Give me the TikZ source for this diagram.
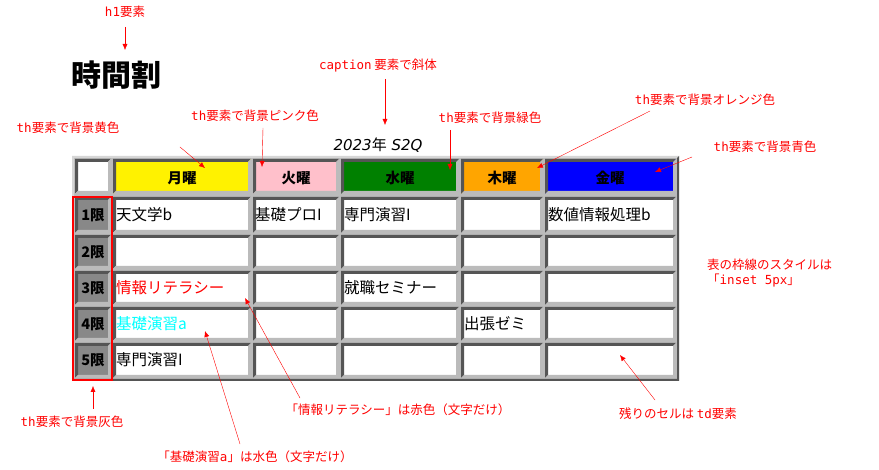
\documentclass[tikz,border=0pt]{standalone}
\usepackage{fontspec}
\setmainfont{Noto Sans CJK JP}
\newfontfamily\cjk{Noto Sans CJK JP}
\newfontfamily\mono{DejaVu Sans Mono}
\newfontfamily\lsans{DejaVu Sans}
\definecolor{dk}{HTML}{555555}
\definecolor{lt}{HTML}{BBBBBB}
\definecolor{thgray}{HTML}{888888}
\definecolor{orng}{HTML}{FFA500}
\definecolor{pnk}{HTML}{FFC0CB}
\definecolor{grn}{HTML}{008000}
\definecolor{aqua}{HTML}{00FFFF}
\newcommand\icell[5]{%
 \fill[#5] (#1,#2) rectangle (#3,#4);
 \fill[dk] (#1,#2)--(#3,#2)--(#3-3,#2+3)--(#1+3,#2+3)--(#1+3,#4-3)--(#1,#4)--cycle;
 \fill[lt] (#3,#4)--(#1,#4)--(#1+3,#4-3)--(#3-3,#4-3)--(#3-3,#2+3)--(#3,#2)--cycle;}
\tikzset{ann/.style={text=red,font=\fontsize{12.5}{15}\selectfont,inner sep=1pt},
 arr/.style={draw=red,-{Latex[length=6pt,width=5pt]},thin},
 hd/.style={font=\fontsize{14.5}{16}\selectfont\bfseries},
 bd/.style={font=\fontsize{15.5}{17}\selectfont,anchor=west,inner sep=0pt}}
\usetikzlibrary{arrows.meta}
\begin{document}
\begin{tikzpicture}[x=1pt,y=-1pt]
\useasboundingbox (0,0) rectangle (879,470);
\fill[white] (0,0) rectangle (879,470);
% table
\fill[lt] (72,156) rectangle (679,381);
\fill[lt!60!white] (72,156)--(679,156)--(677,158)--(74,158)--(74,379)--(72,381)--cycle;
\fill[dk] (679,381)--(72,381)--(74,379)--(677,379)--(677,158)--(679,156)--cycle;
\def\rows{197/233,235/269,271/305,307/341,343/378}
\icell{75}{159}{111}{194}{white}
\icell{113}{159}{251}{194}{yellow}
\icell{253}{159}{339}{194}{pnk}
\icell{341}{159}{459}{194}{grn}
\icell{461}{159}{543}{194}{orng}
\icell{545}{159}{676}{194}{blue}
\foreach \ya/\yb in \rows {
  \icell{75}{\ya}{111}{\yb}{thgray}
  \foreach \xa/\xb in {113/251,253/339,341/459,461/543,545/676} {\icell{\xa}{\ya}{\xb}{\yb}{white}}
}
\node[hd] (mon) at (182,178) {月曜};
\node[hd] (tue) at (296,178) {火曜};
\node[hd] (wed) at (400,178) {水曜};
\node[hd] (thu) at (502,178) {木曜};
\node[hd] (fri) at (610,178) {金曜};
\foreach \i/\y in {1/215,2/252,3/288,4/324,5/360} {\node[hd] (p\i) at (93,\y) {\i 限};}
\node[bd] (c11) at (116,215) {天文学b};
\node[bd] (c12) at (255,215) {基礎プロI};
\node[bd] (c13) at (344,215) {専門演習I};
\node[bd] (c15) at (548,215) {数値情報処理b};
\node[bd,text=red] (c31) at (116,288) {情報リテラシー};
\node[bd] (c33) at (344,288) {就職セミナー};
\node[bd,text=aqua] (c41) at (116,324) {基礎演習a};
\node[bd] (c44) at (464,324) {出張ゼミ};
\node[bd] (c51) at (116,360) {専門演習I};
\draw[red,line width=2.5pt] (73,197) rectangle (112,380);
% titles
\node[font=\fontsize{30}{34}\selectfont\bfseries,anchor=west,inner sep=0pt] (h1) at (71,75) {時間割};
\node[font=\fontsize{15}{17}\selectfont\itshape\lsans] (cap) at (378,145) {2023{\cjk\upshape 年} S2Q};
% annotations
\node[ann] (a1) at (125,12) {{\mono h1}要素};
\draw[arr] (125,27)--(125,50);
\node[ann] (a2) at (378,66) {{\mono caption} 要素で斜体};
\draw[arr] (385,79)--(385,125);
\node[ann] (a3) at (255,116) {{\mono th}要素で背景ピンク色};
\draw[arr] (263,128)--(262,167);
\node[ann] (a4) at (68,128) {{\mono th}要素で背景黄色};
\draw[arr] (180,147)--(205,168);
\node[ann] (a5) at (490,118) {{\mono th}要素で背景緑色};
\draw[arr] (450,130)--(450,170);
\node[ann] (a6) at (705,100) {{\mono th}要素で背景オレンジ色};
\draw[arr] (650,111)--(537,168);
\node[ann] (a7) at (765,147) {{\mono th}要素で背景青色};
\draw[arr] (692,157)--(655,172);
\node[ann,align=left,anchor=west] (a8) at (706,273) {表の枠線のスタイルは\\「{\mono inset 5px}」};
\node[ann] (a9) at (678,414) {残りのセルは {\mono td}要素};
\draw[arr] (655,400)--(620,355);
\node[ann] (a10) at (398,410) {「情報リテラシー」は赤色（文字だけ）};
\draw[arr] (300,398)--(245,298);
\node[ann] (a11) at (255,457) {「基礎演習{\mono a}」は水色（文字だけ）};
\draw[arr] (240,444)--(205,331);
\node[ann] (a12) at (72,422) {{\mono th}要素で背景灰色};
\draw[arr] (93,409)--(93,386);
\end{tikzpicture}
\end{document}
